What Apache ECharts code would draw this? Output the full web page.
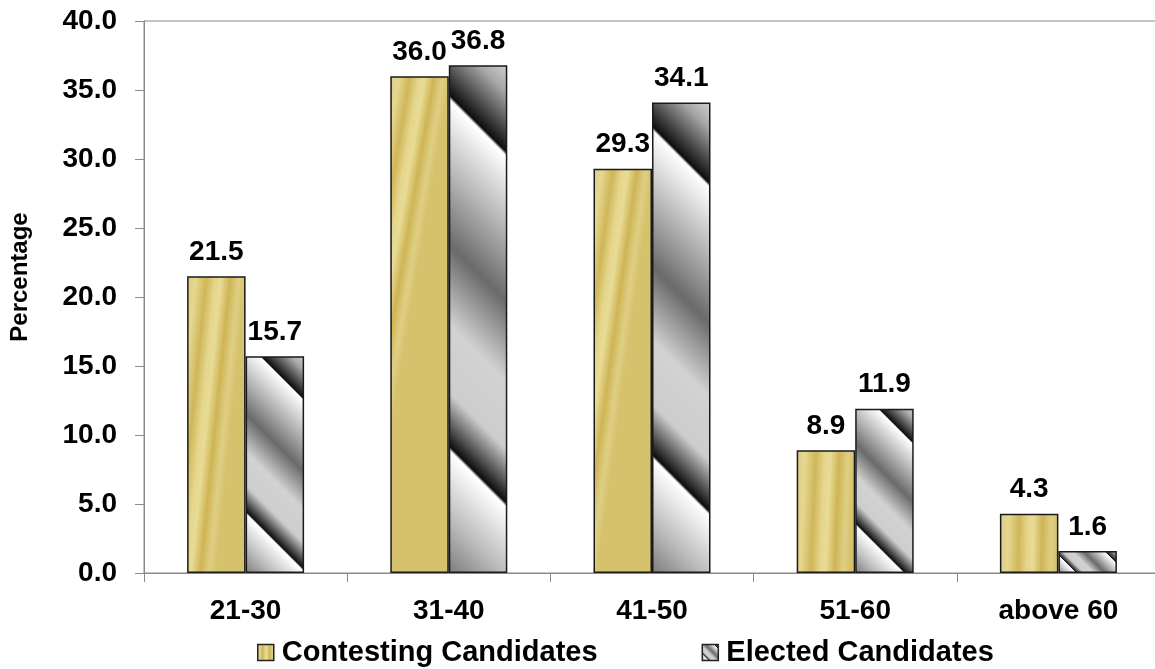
<!DOCTYPE html>
<html><head><meta charset="utf-8">
<script src="https://cdn.jsdelivr.net/npm/echarts@6/dist/echarts.min.js"></script>
<style>html,body{margin:0;padding:0;background:#fff}#c{width:1155px;height:669px}</style>
</head><body><div id="c"></div>
<script>
const categories = ['21-30', '31-40', '41-50', '51-60', 'above 60'];
const seriesNames = ['Contesting Candidates', 'Elected Candidates'];
const contesting = [21.5, 36.0, 29.3, 8.9, 4.3];
const elected = [15.7, 36.8, 34.1, 11.9, 1.6];
const yMin = 0, yMax = 40, yStep = 5;

const FONT = "'Liberation Sans', Arial, sans-serif";
const BAR_W = 58.5;

const goldStops = [
  [0, '#ddcd88'], [0.15, '#e5d78f'], [0.33, '#d0b659'], [0.48, '#e4d68b'],
  [0.58, '#e8db95'], [0.73, '#cfb455'], [0.88, '#dfcf84'], [1, '#d6c16c']
];
const grayStops = [
  [0, '#cfcfcf'], [0.05, '#a8a8a8'], [0.155, '#0e0e0e'], [0.162, '#ffffff'],
  [0.28, '#bdbdbd'], [0.42, '#6a6a6a'], [0.56, '#d2d2d2'], [0.68, '#cdcdcd'],
  [0.775, '#0d0d0d'], [0.782, '#ffffff'], [0.9, '#bdbdbd'], [1, '#7c7c7c']
];
function stops(a) { return a.map(s => ({offset: s[0], color: s[1]})); }
function goldGrad() {
  return new echarts.graphic.LinearGradient(0, 0, 1, 0.02, stops(goldStops));
}
// 45-degree gradient from top-right corner toward bottom-left, sized to the bar
function grayGrad(w, h) {
  h = Math.max(h, 1);
  return new echarts.graphic.LinearGradient(1, 0, (w - h) / (2 * w), (w + h) / (2 * h), stops(grayStops));
}

const chart = echarts.init(document.getElementById('c'), null, {renderer: 'canvas'});
const labelStyle = {
  show: true, position: 'top', distance: 10,
  fontFamily: FONT, fontSize: 28, fontWeight: 'bold', color: '#000',
  formatter: p => Number(p.value).toFixed(1)
};
const option = {
  animation: false,
  backgroundColor: '#fff',
  grid: {left: 144, width: 1016, top: 21, bottom: 96, outerBoundsMode: 'none', containLabel: false,
    show: true, borderColor: '#8a8a8a', borderWidth: 1, backgroundColor: 'transparent'},
  legend: {
    data: seriesNames, left: 252, top: 633, itemWidth: 16, itemHeight: 16, itemGap: 104,
    icon: 'rect',
    textStyle: {fontFamily: FONT, fontSize: 29, fontWeight: 'bold', color: '#000', padding: [0, 0, 0, 3]},
    itemStyle: {borderColor: '#222', borderWidth: 1.5}
  },
  xAxis: {
    type: 'category', data: categories,
    axisLine: {lineStyle: {color: '#8a8a8a', width: 1}},
    axisTick: {show: true, length: 9, lineStyle: {color: '#8a8a8a'}},
    axisLabel: {fontFamily: FONT, fontSize: 28, fontWeight: 'bold', color: '#000', margin: 24}
  },
  yAxis: {
    type: 'value', min: yMin, max: yMax, interval: yStep,
    name: 'Percentage', nameLocation: 'middle', nameGap: 112, nameRotate: 90,
    nameTextStyle: {fontFamily: FONT, fontSize: 24, fontWeight: 'bold', color: '#000', padding: [0, 0, 0, 40]},
    axisLine: {show: true, lineStyle: {color: '#8a8a8a', width: 1}},
    axisTick: {show: true, length: 9, lineStyle: {color: '#8a8a8a'}},
    splitLine: {show: false},
    axisLabel: {fontFamily: FONT, fontSize: 28, fontWeight: 'bold', color: '#000', margin: 27,
      formatter: v => Number(v).toFixed(1)}
  },
  series: [
    {
      name: seriesNames[0], type: 'bar', data: contesting, barWidth: BAR_W, barGap: '0%',
      itemStyle: {color: goldGrad(), borderColor: '#1a1a1a', borderWidth: 1.5},
      label: labelStyle
    },
    {
      name: seriesNames[1], type: 'bar', data: elected, barWidth: BAR_W, barGap: '0%',
      itemStyle: {color: grayGrad(16, 16), borderColor: '#1a1a1a', borderWidth: 1.5},
      label: labelStyle
    }
  ]
};
chart.setOption(option);

// size the striped gradients to each bar using the chart's own scale
const y0 = chart.convertToPixel({yAxisIndex: 0}, 0);
const electedData = elected.map(v => {
  const h = y0 - chart.convertToPixel({yAxisIndex: 0}, v);
  return {value: v, itemStyle: {color: grayGrad(BAR_W, h)}};
});
const contestingData = contesting.map(v => ({value: v, itemStyle: {color: goldGrad()}}));
chart.setOption({series: [{data: contestingData}, {data: electedData}]});
</script>
</body></html>
